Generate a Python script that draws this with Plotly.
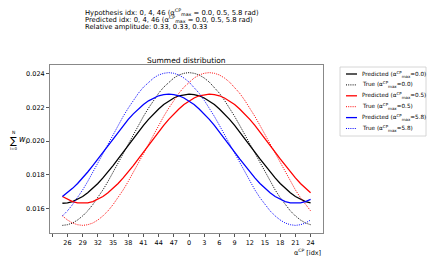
import plotly.graph_objects as go

# x positions 0..49 correspond to idx 25..49,0..24
idx_labels = [25, 26, 27, 28, 29, 30, 31, 32, 33, 34, 35, 36, 37, 38, 39, 40, 41, 42, 43, 44, 45, 46, 47, 48, 49,
              0, 1, 2, 3, 4, 5, 6, 7, 8, 9, 10, 11, 12, 13, 14, 15, 16, 17, 18, 19, 20, 21, 22, 23, 24]

pred_0 = [0.01632, 0.01634, 0.01642, 0.01655, 0.01672, 0.01694, 0.01720, 0.01749, 0.01782, 0.01817,
          0.01855, 0.01894, 0.01935, 0.01975, 0.02016, 0.02055, 0.02093, 0.02128, 0.02161, 0.02190,
          0.02216, 0.02238, 0.02255, 0.02268, 0.02275, 0.02278, 0.02275, 0.02268, 0.02255, 0.02238,
          0.02216, 0.02190, 0.02161, 0.02128, 0.02093, 0.02055, 0.02016, 0.01975, 0.01935, 0.01894,
          0.01855, 0.01817, 0.01782, 0.01749, 0.01720, 0.01694, 0.01672, 0.01655, 0.01642, 0.01634]
true_0 = [0.01501, 0.01505, 0.01515, 0.01533, 0.01557, 0.01587, 0.01624, 0.01665, 0.01711, 0.01761,
          0.01813, 0.01868, 0.01925, 0.01981, 0.02038, 0.02093, 0.02146, 0.02195, 0.02241, 0.02283,
          0.02319, 0.02349, 0.02373, 0.02391, 0.02401, 0.02405, 0.02401, 0.02391, 0.02373, 0.02349,
          0.02319, 0.02283, 0.02241, 0.02195, 0.02146, 0.02093, 0.02038, 0.01981, 0.01925, 0.01868,
          0.01813, 0.01761, 0.01711, 0.01665, 0.01624, 0.01587, 0.01557, 0.01533, 0.01515, 0.01505]
pred_05 = [0.01672, 0.01655, 0.01642, 0.01634, 0.01632, 0.01634, 0.01642, 0.01655, 0.01672, 0.01694,
           0.01720, 0.01749, 0.01782, 0.01817, 0.01855, 0.01894, 0.01935, 0.01975, 0.02016, 0.02055,
           0.02093, 0.02128, 0.02161, 0.02190, 0.02216, 0.02238, 0.02255, 0.02268, 0.02275, 0.02278,
           0.02275, 0.02268, 0.02255, 0.02238, 0.02216, 0.02190, 0.02161, 0.02128, 0.02093, 0.02055,
           0.02016, 0.01975, 0.01935, 0.01894, 0.01855, 0.01817, 0.01782, 0.01749, 0.01720, 0.01694]
true_05 = [0.01557, 0.01533, 0.01515, 0.01505, 0.01501, 0.01505, 0.01515, 0.01533, 0.01557, 0.01587,
           0.01624, 0.01665, 0.01711, 0.01761, 0.01813, 0.01868, 0.01925, 0.01981, 0.02038, 0.02093,
           0.02146, 0.02195, 0.02241, 0.02283, 0.02319, 0.02349, 0.02373, 0.02391, 0.02401, 0.02405,
           0.02401, 0.02391, 0.02373, 0.02349, 0.02319, 0.02283, 0.02241, 0.02195, 0.02146, 0.02093,
           0.02038, 0.01981, 0.01925, 0.01868, 0.01813, 0.01761, 0.01711, 0.01665, 0.01624, 0.01587]
pred_58 = [0.01672, 0.01694, 0.01720, 0.01749, 0.01782, 0.01817, 0.01855, 0.01894, 0.01935, 0.01975,
           0.02016, 0.02055, 0.02093, 0.02128, 0.02161, 0.02190, 0.02216, 0.02238, 0.02255, 0.02268,
           0.02275, 0.02278, 0.02275, 0.02268, 0.02255, 0.02238, 0.02216, 0.02190, 0.02161, 0.02128,
           0.02093, 0.02055, 0.02016, 0.01975, 0.01935, 0.01894, 0.01855, 0.01817, 0.01782, 0.01749,
           0.01720, 0.01694, 0.01672, 0.01655, 0.01642, 0.01634, 0.01632, 0.01634, 0.01642, 0.01655]
true_58 = [0.01557, 0.01587, 0.01624, 0.01665, 0.01711, 0.01761, 0.01813, 0.01868, 0.01925, 0.01981,
           0.02038, 0.02093, 0.02146, 0.02195, 0.02241, 0.02283, 0.02319, 0.02349, 0.02373, 0.02391,
           0.02401, 0.02405, 0.02401, 0.02391, 0.02373, 0.02349, 0.02319, 0.02283, 0.02241, 0.02195,
           0.02146, 0.02093, 0.02038, 0.01981, 0.01925, 0.01868, 0.01813, 0.01761, 0.01711, 0.01665,
           0.01624, 0.01587, 0.01557, 0.01533, 0.01515, 0.01505, 0.01501, 0.01505, 0.01515, 0.01533]

series = [
    ("Predicted", "0.0", pred_0, "black", "solid"),
    ("True", "0.0", true_0, "black", "dot"),
    ("Predicted", "0.5", pred_05, "red", "solid"),
    ("True", "0.5", true_05, "red", "dot"),
    ("Predicted", "5.8", pred_58, "blue", "solid"),
    ("True", "5.8", true_58, "blue", "dot"),
]

tick_vals = list(range(-2, 50, 3))
tick_text = [" "] + [str(idx_labels[v]) for v in tick_vals[1:]]
y_ticks = [0.016, 0.018, 0.020, 0.022, 0.024]

# the page body has an 8px margin, so the figure is 8px smaller than the window
OFF = 8
W, H = 436 - OFF, 262 - OFF
PX0, PX1, PY0, PY1 = 50, 323, 65, 233  # plot area in window pixels
L, R, T, B = PX0 - OFF, W - (PX1 - OFF), PY0 - OFF, H - (PY1 - OFF)
FONT = "DejaVu Sans"
ALPHA = "α<sup>CP</sup><sub>max</sub>"


def px(xw):
    return (xw - PX0) / (PX1 - PX0)


def py(yw):
    return (PY1 - yw) / (PY1 - PY0)


def line_style(col, dash):
    if dash == "solid":
        return dict(color=col, width=1.3, dash="solid")
    return dict(color=col, width=1.0, dash="1px,1.2px")


fig = go.Figure()
xs = list(range(len(idx_labels)))
for kind, val, ys, col, dash in series:
    fig.add_trace(go.Scatter(x=xs, y=ys, mode="lines", showlegend=False,
                             line=line_style(col, dash),
                             name=f"{kind} ({val})"))

ann = []
shapes = []
header = [
    f"Hypothesis idx: 0, 4, 46 ({ALPHA} = 0.0, 0.5, 5.8 rad)",
    f"Predicted idx: 0, 4, 46 ({ALPHA} = 0.0, 0.5, 5.8 rad)",
    "Relative amplitude: 0.33, 0.33, 0.33",
]
for i, t in enumerate(header):
    ann.append(dict(text=t, x=px(83), y=py(12 + 7.4 * i), xref="paper", yref="paper",
                    xanchor="left", yanchor="middle", showarrow=False,
                    font=dict(family=FONT, size=6.8, color="black")))
ann.append(dict(text="Summed distribution", x=0.5, y=py(60), xref="paper", yref="paper",
                xanchor="center", yanchor="middle", showarrow=False,
                font=dict(family=FONT, size=7.5, color="black")))
ann.append(dict(text="α<sup>CP</sup> [idx]", x=1.0, y=py(252), xref="paper", yref="paper",
                xanchor="right", yanchor="middle", showarrow=False,
                font=dict(family=FONT, size=6.5, color="black")))
# y label: sum_{i=0}^{N} w_i
ann.append(dict(text="∑", x=px(13), y=py(140), xref="paper", yref="paper",
                xanchor="center", yanchor="middle", showarrow=False,
                font=dict(family=FONT, size=10, color="black")))
ann.append(dict(text="N", x=px(13), y=py(132), xref="paper", yref="paper",
                xanchor="center", yanchor="middle", showarrow=False,
                font=dict(family=FONT, size=4.5, color="black")))
ann.append(dict(text="i=0", x=px(13), y=py(148), xref="paper", yref="paper",
                xanchor="center", yanchor="middle", showarrow=False,
                font=dict(family=FONT, size=4, color="black")))
ann.append(dict(text="<i>w</i><sub>i</sub>", x=px(17), y=py(140), xref="paper", yref="paper",
                xanchor="left", yanchor="middle", showarrow=False,
                font=dict(family=FONT, size=8, color="black")))

# legend drawn by hand so that it stays as compact as the reference
shapes.append(dict(type="rect", xref="paper", yref="paper",
                   x0=px(340), x1=px(426), y0=py(67), y1=py(136),
                   line=dict(color="#cccccc", width=0.8), fillcolor="white"))
for i, (kind, val, ys, col, dash) in enumerate(series):
    yc = 74 + 10.9 * i
    shapes.append(dict(type="line", xref="paper", yref="paper",
                       x0=px(346), x1=px(357), y0=py(yc), y1=py(yc),
                       line=line_style(col, dash)))
    ann.append(dict(text=f"{kind} ({ALPHA}={val})", x=px(360), y=py(yc),
                    xref="paper", yref="paper", xanchor="left", yanchor="middle",
                    showarrow=False, font=dict(family=FONT, size=5.7, color="black")))

axis_common = dict(showgrid=False, zeroline=False, showline=True, mirror=True,
                   linecolor="#888888", linewidth=1, ticks="outside", ticklen=3,
                   tickcolor="#555555", tickfont=dict(family=FONT, size=6.5, color="black"))

fig.update_layout(
    width=W, height=H, margin=dict(l=L, r=R, t=T, b=B),
    paper_bgcolor="white", plot_bgcolor="white",
    xaxis=dict(range=[-2.45, 51.45], tickmode="array", tickvals=tick_vals,
               ticktext=tick_text, tickangle=0, **axis_common),
    yaxis=dict(range=[0.01456, 0.02450], tickmode="array", tickvals=y_ticks,
               ticktext=[f"{v:.3f}" for v in y_ticks], **axis_common),
    annotations=ann, shapes=shapes, showlegend=False,
)

fig.write_html("out.html")
